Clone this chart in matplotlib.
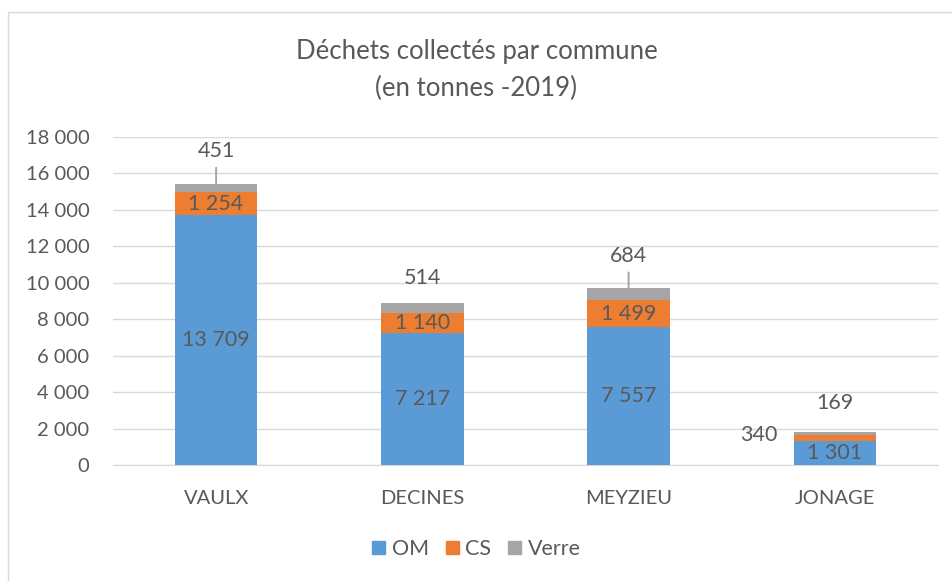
import matplotlib
matplotlib.use('Agg')
import matplotlib.pyplot as plt
from matplotlib.patches import Rectangle, Patch
import numpy as np

communes = ['VAULX', 'DECINES', 'MEYZIEU', 'JONAGE']
om = [13709, 7217, 7557, 1301]
cs = [1254, 1140, 1499, 340]
verre = [451, 514, 684, 169]
yticks = [0, 2000, 4000, 6000, 8000, 10000, 12000, 14000, 16000, 18000]

C_OM = '#5B9BD5'
C_CS = '#ED7D31'
C_VERRE = '#A5A5A5'
TXT = '#595959'

plt.rcParams['font.family'] = ['Lato', 'DejaVu Sans']


def fmt(v):
    return f"{v:,}".replace(',', ' ')


fig = plt.figure(figsize=(9.53, 5.81), dpi=100)
ax = fig.add_axes([113 / 953, 1 - 465 / 581, 825 / 953, 328 / 581])

x = np.arange(len(communes))
w = 0.4
om_a, cs_a, ve_a = np.array(om), np.array(cs), np.array(verre)
ax.bar(x, om_a, w, color=C_OM, zorder=3)
ax.bar(x, cs_a, w, bottom=om_a, color=C_CS, zorder=3)
ax.bar(x, ve_a, w, bottom=om_a + cs_a, color=C_VERRE, zorder=3)

ax.set_xlim(-0.5, len(communes) - 0.5)
ax.set_ylim(0, 18000)
ax.set_yticks(yticks)
ax.set_yticklabels([fmt(v) for v in yticks])
ax.set_xticks(x)
ax.set_xticklabels(communes)
ax.tick_params(axis='both', length=0, colors=TXT, labelsize=14.5)
ax.tick_params(axis='y', pad=17)
ax.tick_params(axis='x', pad=18)
ax.grid(axis='y', color='#D9D9D9', linewidth=1, zorder=0)
for s in ['top', 'right', 'left']:
    ax.spines[s].set_visible(False)
ax.spines['bottom'].set_color('#D9D9D9')

lbl = dict(color=TXT, fontsize=15.5, ha='center', va='center', zorder=5)
for i in range(len(communes)):
    ax.text(x[i], om[i] / 2, fmt(om[i]), **lbl)
    if i < 3:
        ax.text(x[i], om[i] + cs[i] / 2, fmt(cs[i]), **lbl)
    else:
        ax.annotate(fmt(cs[i]), (x[i], om[i] + cs[i] / 2), xytext=(-55, 2),
                    textcoords='offset points', **lbl)
    top = om[i] + cs[i] + verre[i]
    off = {0: 24, 1: 18, 2: 23, 3: 21}[i]
    arrow = dict(arrowstyle='-', color='#A5A5A5', lw=1.4, shrinkA=3, shrinkB=0) if i in (0, 2) else None
    ax.annotate(fmt(verre[i]), (x[i], top), xytext=(0, off),
                textcoords='offset points', arrowprops=arrow, **lbl)

fig.text(0.5, 1 - 52 / 581, 'Déchets collectés par commune', ha='center',
         va='center', fontsize=18.5, color=TXT)
fig.text(0.5, 1 - 88 / 581, '(en tonnes -2019)', ha='center',
         va='center', fontsize=18.5, color=TXT)

handles = [Patch(color=C_OM), Patch(color=C_CS), Patch(color=C_VERRE)]
fig.legend(handles, ['OM', 'CS', 'Verre'], loc='center', bbox_to_anchor=(0.5, 1 - 549 / 581),
           ncol=3, frameon=False, fontsize=15.5, labelcolor=TXT, handlelength=0.6,
           handleheight=0.6, handletextpad=0.3, columnspacing=0.8)

fig.patches.append(Rectangle((8 / 953, -0.05), 1.0, 1 - 12 / 581 + 0.05,
                             transform=fig.transFigure, fill=False,
                             edgecolor='#D9D9D9', linewidth=1))

fig.savefig('out.png', dpi=100, facecolor='white')
